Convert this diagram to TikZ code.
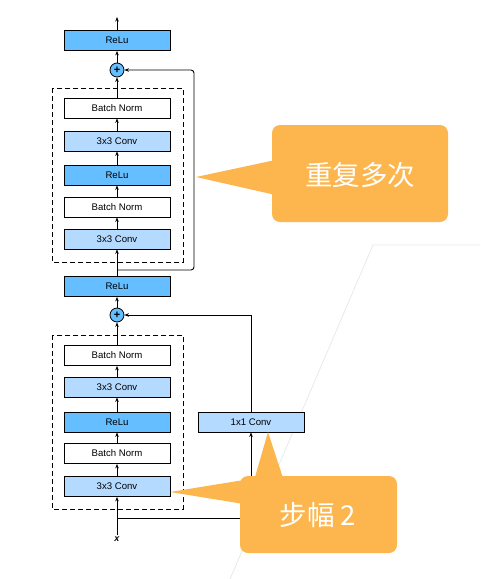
\documentclass[tikz,border=0pt]{standalone}
\usepackage{fontspec}
\setmainfont{Liberation Sans}
\newfontfamily\cjk{Noto Sans CJK SC}
\usetikzlibrary{arrows.meta}
\definecolor{darkb}{RGB}{100,190,255}
\definecolor{lightb}{RGB}{180,218,255}
\definecolor{callout}{RGB}{253,182,77}
\definecolor{faint}{RGB}{232,232,232}
\tikzset{
  blk/.style={draw=black, line width=0.8pt, minimum width=106pt, minimum height=20pt, inner sep=0pt, font=\fontsize{9.6}{10}\selectfont},
  relub/.style={blk, fill=darkb},
  convb/.style={blk, fill=lightb},
  bnb/.style={blk, fill=white},
  plusb/.style={circle, draw=black, line width=0.8pt, fill=darkb, minimum size=14pt, inner sep=0pt, font=\fontsize{11}{11}\selectfont\bfseries},
  arr/.style={-{Stealth[length=4.5pt,width=3.5pt]}, line width=0.9pt},
  dbox/.style={draw=black, dashed, dash pattern=on 5pt off 3pt, line width=1pt},
  ctext/.style={text=white, font=\cjk\fontsize{27.5}{30}\selectfont}
}
\begin{document}
\begin{tikzpicture}[x=1pt,y=-1pt]
\useasboundingbox (0,0) rectangle (480,579);
% faint background lines
\draw[faint, line width=0.8pt] (480,245) -- (373,245) -- (230,579);
% dashed boxes
\draw[dbox] (52,88) rectangle (183,262);
\draw[dbox] (52,335) rectangle (183,509);
% nodes
\node[relub] (relu3) at (117,40.5) {ReLu};
\node[plusb] (plus2) at (117,70) {+};
\node[bnb] (bn4) at (117,108) {Batch Norm};
\node[convb] (conv4) at (117,141) {3x3 Conv};
\node[relub] (relub) at (117,175) {ReLu};
\node[bnb] (bn3) at (117,207) {Batch Norm};
\node[convb] (conv3) at (117,239) {3x3 Conv};
\node[relub] (relu2) at (117,286.5) {ReLu};
\node[plusb] (plus1) at (117,315) {+};
\node[bnb] (bn2) at (117,355.5) {Batch Norm};
\node[convb] (conv2) at (117,387) {3x3 Conv};
\node[relub] (relu1) at (117,422) {ReLu};
\node[bnb] (bn1) at (117,453.5) {Batch Norm};
\node[convb] (conv1) at (117,486.5) {3x3 Conv};
\node[font=\fontsize{9}{10}\selectfont\bfseries\itshape, inner sep=1pt] (x) at (117,539) {x};
\node[convb] (c11) at (251,422) {1x1 Conv};
\coordinate (out) at (117,17);
\coordinate (br1) at (117,518);
\coordinate (br2) at (117,270);
% main chain
\draw[arr] (x.north) -- (conv1.south);
\draw[arr] (conv1) -- (bn1);
\draw[arr] (bn1) -- (relu1);
\draw[arr] (relu1) -- (conv2);
\draw[arr] (conv2) -- (bn2);
\draw[arr] (bn2) -- (plus1);
\draw[arr] (plus1) -- (relu2);
\draw[arr] (relu2) -- (conv3);
\draw[arr] (conv3) -- (bn3);
\draw[arr] (bn3) -- (relub);
\draw[arr] (relub) -- (conv4);
\draw[arr] (conv4) -- (bn4);
\draw[arr] (bn4) -- (plus2);
\draw[arr] (plus2) -- (relu3);
\draw[arr] (relu3) -- (out);
% shortcut 1
\draw[arr] (br1) -- (c11.south |- br1) -- (c11.south);
\draw[arr] (c11.north) -- (c11.north |- plus1) -- (plus1.east);
% shortcut 2
\draw[arr, rounded corners=3pt] (br2) -- (194,270) -- (194,70) -- (plus2.east);
% callout 1
\fill[callout, rounded corners=8pt] (272,125) rectangle (448,222);
\fill[callout] (196,177) -- (280,159) -- (280,196) -- cycle;
\node[ctext] (t1) at (360,175) {重复多次};
% callout 2
\fill[callout, rounded corners=8pt] (240,476) rectangle (397,553);
\fill[callout] (170,492) -- (250,479) -- (250,505) -- cycle;
\fill[callout] (268,432) -- (253,484) -- (285,484) -- cycle;
\node[ctext] (t2) at (318,515) {步幅 2};
\end{tikzpicture}
\end{document}
